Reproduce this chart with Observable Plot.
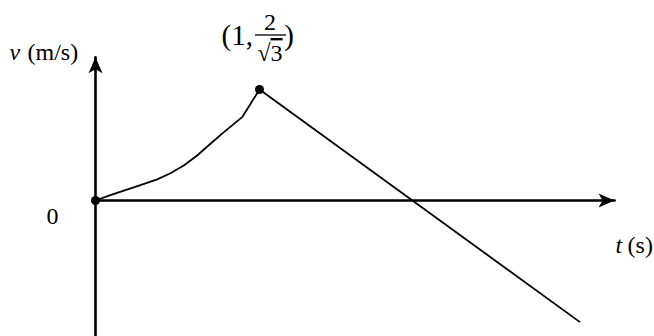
<!DOCTYPE html>
<html>
<head>
<meta charset="utf-8">
<script src="https://cdn.jsdelivr.net/npm/d3@7"></script>
<script src="https://cdn.jsdelivr.net/npm/@observablehq/plot@0.6"></script>
<style>
  html, body { margin: 0; padding: 0; background: #fff; }
  #chart svg { display: block; }
</style>
</head>
<body>
<div id="chart"></div>
<script>
// Velocity–time sketch: a rising curve up to the peak (1, 2/√3), then a straight decline.
const peakV = 2 / Math.sqrt(3);

// Rising part of v(t), 0 ≤ t ≤ 1
const riseT = [0, 0.091, 0.173, 0.274, 0.376, 0.457, 0.538, 0.620, 0.701, 0.783, 0.894, 1];
const riseV = [0, 0.055, 0.103, 0.160, 0.220, 0.284, 0.364, 0.468, 0.590, 0.711, 0.867, peakV];

// Falling straight part, from the peak to the end of the sketch
const fallT = [1, 2.95];
const fallV = [peakV, -1.26];

// Marked points
const dotT = [0, 1];
const dotV = [0, peakV];

// Axis extents (tips of the arrows)
const tAxisEnd = 3.165;
const vAxisEnd = 1.49;
const vAxisBottom = -1.6;

const rise = riseT.map((t, i) => ({t, v: riseV[i]}));
const fall = fallT.map((t, i) => ({t, v: fallV[i]}));
const dots = dotT.map((t, i) => ({t, v: dotV[i]}));

// Filled, barbed arrowhead pointing up with its tip at the origin
const arrowHead = {
  draw(context) {
    const len = 16, half = 7, notch = 12;
    context.moveTo(0, 0);
    context.lineTo(-half, len);
    context.lineTo(0, notch);
    context.lineTo(half, len);
    context.closePath();
  }
};

const serif = "'Liberation Serif', 'Times New Roman', serif";

// Peak annotation "(1, 2/√3)" drawn with a stacked fraction
function peakLabel(index, scales) {
  const px = scales.x(1), py = scales.y(peakV);
  const g = d3.create("svg:g")
    .attr("font-family", serif)
    .attr("fill", "black");
  g.append("text").attr("x", px - 6).attr("y", py - 44)
    .attr("font-size", 29).attr("text-anchor", "end").text("(1,");
  g.append("text").attr("x", px + 11).attr("y", py - 59)
    .attr("font-size", 24).attr("text-anchor", "middle").text("2");
  g.append("line")
    .attr("x1", px - 4).attr("x2", px + 27)
    .attr("y1", py - 54).attr("y2", py - 54)
    .attr("stroke", "black").attr("stroke-width", 1.3);
  const root = g.append("text").attr("x", px + 11).attr("y", py - 28)
    .attr("font-size", 24).attr("text-anchor", "middle");
  root.append("tspan").text("√");
  root.append("tspan").attr("text-decoration", "overline").text("3");
  g.append("text").attr("x", px + 30).attr("y", py - 44)
    .attr("font-size", 29).text(")");
  return g.node();
}

const label = (t, v, text, opts) => Plot.text([{t, v}], {
  x: "t", y: "v", text: () => text, fontSize: 24, fontFamily: serif,
  fill: "black", textAnchor: "start", ...opts
});

const chart = Plot.plot({
  width: 654,
  height: 336,
  margin: 0,
  style: {background: "white"},
  x: {domain: [0, 1], range: [95, 259], axis: null},
  y: {domain: [0, peakV], range: [200, 89], axis: null},
  marks: [
    // axes
    Plot.line([{t: 0, v: 0}, {t: tAxisEnd, v: 0}], {x: "t", y: "v", stroke: "black", strokeWidth: 2.6}),
    Plot.line([{t: 0, v: vAxisBottom}, {t: 0, v: vAxisEnd}], {x: "t", y: "v", stroke: "black", strokeWidth: 2.6}),
    Plot.dot([{t: tAxisEnd, v: 0}], {x: "t", y: "v", symbol: arrowHead, fill: "black", stroke: "none", rotate: 90}),
    Plot.dot([{t: 0, v: vAxisEnd}], {x: "t", y: "v", symbol: arrowHead, fill: "black", stroke: "none"}),
    // v(t)
    Plot.line(rise, {x: "t", y: "v", stroke: "black", strokeWidth: 1.8}),
    Plot.line(fall, {x: "t", y: "v", stroke: "black", strokeWidth: 1.8}),
    Plot.dot(dots, {x: "t", y: "v", r: 4.5, fill: "black", stroke: "none"}),
    // axis labels
    label(0, vAxisEnd, "v", {fontStyle: "italic", dx: -86, dy: -5}),
    label(0, vAxisEnd, "(m/s)", {dx: -68, dy: -5}),
    label(tAxisEnd, 0, "t", {fontStyle: "italic", dx: 1, dy: 45}),
    label(tAxisEnd, 0, "(s)", {dx: 13, dy: 45}),
    label(0, 0, "0", {textAnchor: "middle", dx: -43, dy: 16}),
    peakLabel
  ]
});

document.getElementById("chart").appendChild(chart);
</script>
</body>
</html>
